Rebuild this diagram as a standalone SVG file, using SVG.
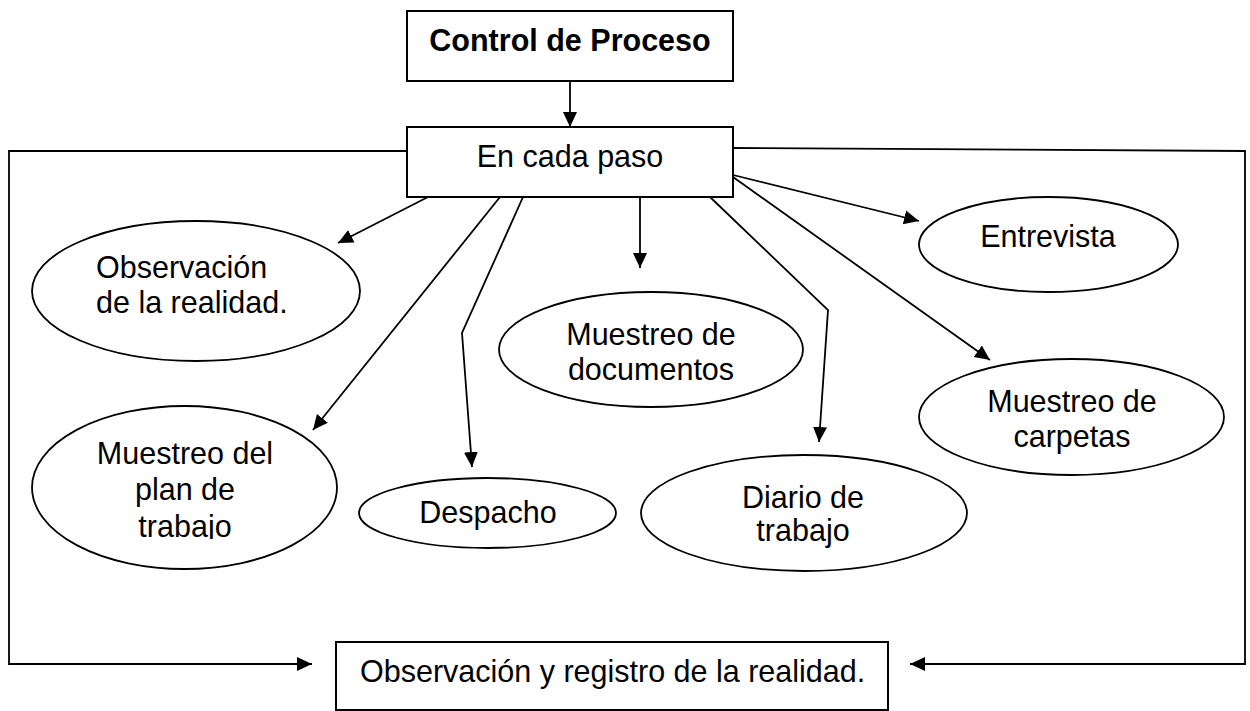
<svg xmlns="http://www.w3.org/2000/svg" width="1250" height="711" viewBox="0 0 1250 711">
<style>
.box{fill:#fff;stroke:#000;stroke-width:2}
.ell{fill:#fff;stroke:#000;stroke-width:1.8}
.t{font-family:"Liberation Sans",Arial,sans-serif;font-size:30.5px;fill:#000}
.c{text-anchor:middle}
.b{font-weight:bold}
.ln{fill:none;stroke:#000;stroke-width:1.8}
</style>
<defs>
<marker id="ah" markerUnits="userSpaceOnUse" markerWidth="16" markerHeight="16" refX="15" refY="7.5" orient="auto">
<path d="M0,0.5 L15,7.5 L0,14.5 Z" fill="#000"/>
</marker>
<clipPath id="clipj"><rect x="0" y="0" width="1250" height="539"/></clipPath>
</defs>
<rect width="1250" height="711" fill="#fff"/>
<g id="connectors">
<line class="ln" x1="570" y1="81" x2="570" y2="127" marker-end="url(#ah)"/>
<polyline class="ln" points="407,151 9,151 9,664 312,664" marker-end="url(#ah)"/>
<polyline class="ln" points="733,148 1245,151 1245,664 910,664" marker-end="url(#ah)"/>
<line class="ln" x1="428" y1="197" x2="338" y2="243" marker-end="url(#ah)"/>
<line class="ln" x1="500" y1="197" x2="313" y2="430" marker-end="url(#ah)"/>
<polyline class="ln" points="523,197 462,333 472,467" marker-end="url(#ah)"/>
<line class="ln" x1="640" y1="197" x2="640" y2="268" marker-end="url(#ah)"/>
<polyline class="ln" points="710,197 828,310 819,442" marker-end="url(#ah)"/>
<line class="ln" x1="733" y1="175" x2="919" y2="221" marker-end="url(#ah)"/>
<line class="ln" x1="733" y1="177" x2="990" y2="360" marker-end="url(#ah)"/>
</g>
<g id="control">
<rect class="box" x="407" y="11" width="326" height="70"/>
<text class="t c b" x="570" y="51">Control de Proceso</text>
</g>
<g id="paso">
<rect class="box" x="407" y="127" width="326" height="70"/>
<text class="t c" x="570" y="167">En cada paso</text>
</g>
<g id="observacion">
<ellipse class="ell" cx="196" cy="291" rx="164" ry="70"/>
<text class="t" x="96" y="278">Observación</text>
<text class="t" x="96" y="313">de la realidad.</text>
</g>
<g id="plan">
<ellipse class="ell" cx="184.5" cy="487.5" rx="152.5" ry="81.5"/>
<text class="t c" x="185" y="464">Muestreo del</text>
<text class="t c" x="185" y="500">plan de</text>
<text class="t c" x="185" y="537" clip-path="url(#clipj)">trabajo</text>
</g>
<g id="despacho">
<ellipse class="ell" cx="487.5" cy="513" rx="128.5" ry="35"/>
<text class="t c" x="488" y="523">Despacho</text>
</g>
<g id="documentos">
<ellipse class="ell" cx="651" cy="349.5" rx="152" ry="57.5"/>
<text class="t c" x="651" y="345">Muestreo de</text>
<text class="t c" x="651" y="380">documentos</text>
</g>
<g id="diario">
<ellipse class="ell" cx="804" cy="513" rx="163" ry="58"/>
<text class="t c" x="803" y="508">Diario de</text>
<text class="t c" x="803" y="541">trabajo</text>
</g>
<g id="entrevista">
<ellipse class="ell" cx="1048.5" cy="244.5" rx="129.5" ry="47.5"/>
<text class="t c" x="1048" y="247">Entrevista</text>
</g>
<g id="carpetas">
<ellipse class="ell" cx="1071.5" cy="417" rx="152.5" ry="58"/>
<text class="t c" x="1072" y="412">Muestreo de</text>
<text class="t c" x="1072" y="447">carpetas</text>
</g>
<g id="registro">
<rect class="box" x="336" y="642" width="552" height="68"/>
<text class="t" x="360" y="682">Observación y registro de la realidad.</text>
</g>
</svg>
